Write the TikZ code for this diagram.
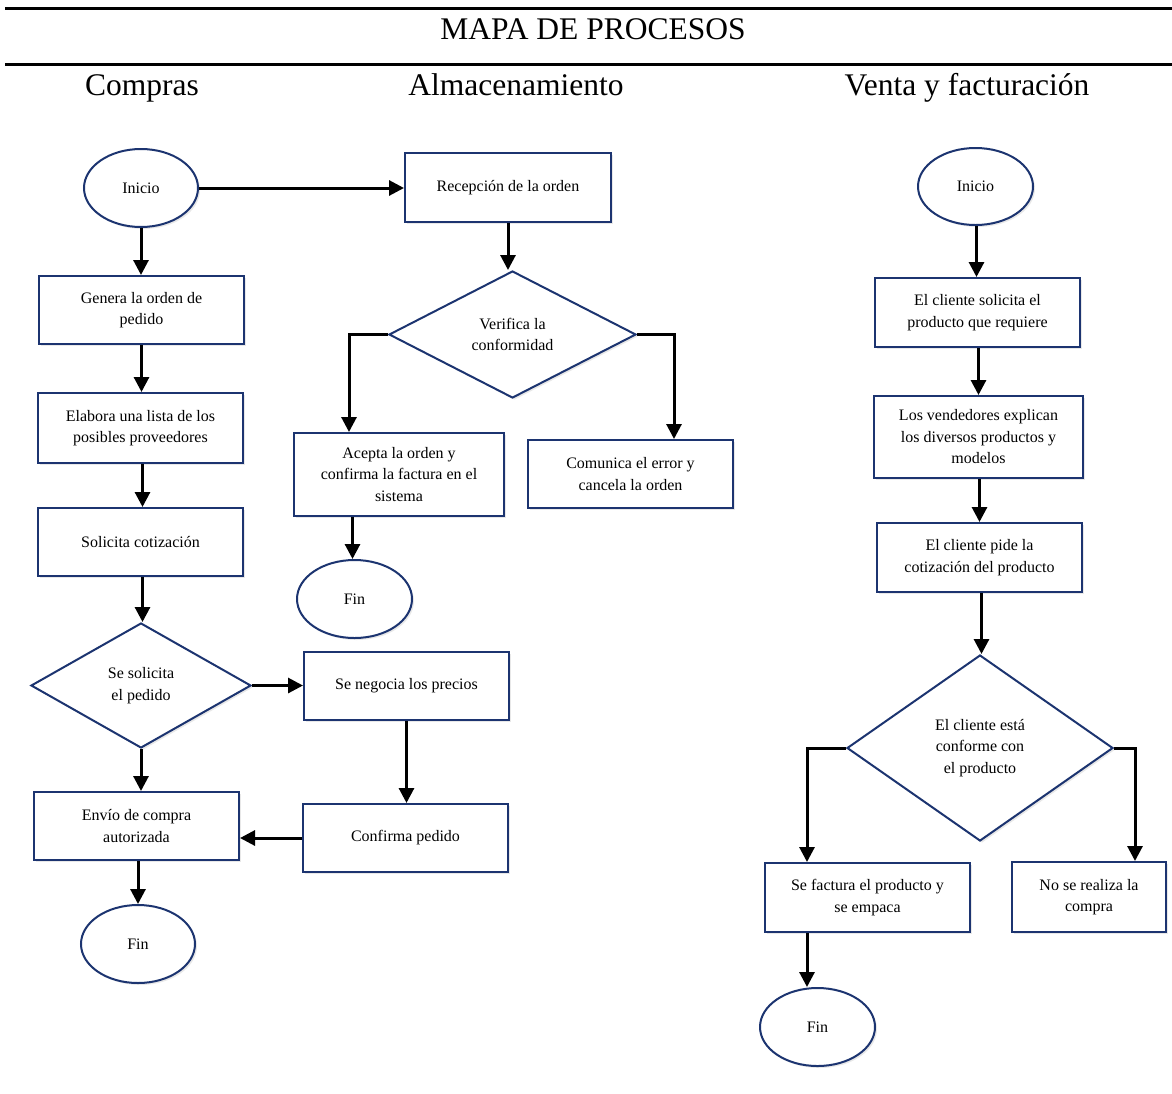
\documentclass[tikz,border=0pt]{standalone}
\usepackage{fontspec}
\setmainfont{Liberation Serif}
\usetikzlibrary{arrows.meta,shapes.geometric,shadows}

\definecolor{borde}{RGB}{28,52,112}

\begin{document}
\begin{tikzpicture}[x=1pt, y=-1pt,
	every node/.style={font=\fontsize{16}{21.5}\selectfont, align=center},
	sombra/.style={drop shadow={opacity=0.18, shadow xshift=2pt, shadow yshift=-2pt}},
	caja/.style={draw=borde, line width=2pt, fill=white, sombra, minimum width=205pt, minimum height=68pt, inner sep=2pt},
	terminal/.style={ellipse, draw=borde, line width=2pt, fill=white, sombra, minimum width=114pt, minimum height=78pt, inner sep=0pt},
	decision/.style={diamond, draw=borde, line width=2pt, fill=white, sombra, inner sep=0pt},
	flecha/.style={line width=3pt, -{Triangle[length=15pt, width=15pt]}},
	linea/.style={line width=3pt},
	titulo/.style={font=\fontsize{31.5}{34}\selectfont, anchor=base}]
	\useasboundingbox (0,0) rectangle (1172,1093);

	% encabezado
	\draw[linea] (5,8) -- (1172,8);
	\draw[linea] (5,64) -- (1172,64);
	\node[titulo] (mapa) at (593,39) {MAPA DE PROCESOS};
	\node[titulo] (hcompras) at (142,95) {Compras};
	\node[titulo] (halmacen) at (516,95) {Almacenamiento};
	\node[titulo] (hventa) at (967,95) {Venta y facturación};

	% compras
	\node[terminal] (ini1) at (141,188) {Inicio};
	\node[caja] (gen) at (141.5,310) {Genera la orden de\\pedido};
	\node[caja, minimum height=70pt] (ela) at (140.5,428) {Elabora una lista de los\\posibles proveedores};
	\node[caja] (sol) at (140.5,542) {Solicita cotización};
	\node[decision, minimum width=220pt, minimum height=125pt] (dec1) at (141,685.5) {Se solicita\\el pedido};
	\node[caja] (neg) at (406.5,686) {Se negocia los precios};
	\node[caja] (con) at (405.5,838) {Confirma pedido};
	\node[caja] (env) at (136.5,826) {Envío de compra\\autorizada};
	\node[terminal] (fin1) at (138,944) {Fin};

	% almacenamiento
	\node[caja, minimum width=206pt, minimum height=69pt] (rec) at (508,187.5) {Recepción de la orden};
	\node[decision, minimum width=247pt, minimum height=127pt] (dec2) at (512.5,334.5) {Verifica la\\conformidad};
	\node[caja, minimum width=210pt, minimum height=83pt] (ace) at (399,474.5) {Acepta la orden y\\confirma la factura en el\\sistema};
	\node[caja] (com) at (630.5,474) {Comunica el error y\\cancela la orden};
	\node[terminal, minimum width=115pt] (fin2) at (354.5,599) {Fin};

	% venta y facturacion
	\node[terminal, minimum width=115pt, minimum height=77pt] (ini2) at (975.5,186.5) {Inicio};
	\node[caja, minimum height=69pt] (cli) at (977.5,312.5) {El cliente solicita el\\producto que requiere};
	\node[caja, minimum width=209pt, minimum height=82pt] (ven) at (978.5,437) {Los vendedores explican\\los diversos productos y\\modelos};
	\node[caja, minimum height=69pt] (ped) at (979.5,557.5) {El cliente pide la\\cotización del producto};
	\node[decision, minimum width=266pt, minimum height=186pt] (dec3) at (980,748) {El cliente está\\conforme con\\el producto};
	\node[caja, minimum height=69pt] (fac) at (867.5,897.5) {Se factura el producto y\\se empaca};
	\node[caja, minimum width=154pt, minimum height=70pt] (nor) at (1089,897) {No se realiza la\\compra};
	\node[terminal, minimum width=115pt] (fin3) at (817.5,1027) {Fin};

	% conectores compras
	\draw[flecha] (ini1.east) -- (ini1.east -| rec.west);
	\draw[flecha] (ini1.south) -- (ini1.south |- gen.north);
	\draw[flecha] (gen.south) -- (gen.south |- ela.north);
	\draw[flecha] ([xshift=2pt]ela.south) -- ([xshift=2pt]ela.south |- sol.north);
	\draw[flecha] ([xshift=2pt]sol.south) -- ([xshift=2pt]sol.south |- dec1.north);
	\draw[flecha] (dec1.east) -- (dec1.east -| neg.west);
	\draw[flecha] (dec1.south) -- (dec1.south |- env.north);
	\draw[flecha] (neg.south) -- (neg.south |- con.north);
	\draw[flecha] (con.west) -- (con.west -| env.east);
	\draw[flecha] (fin1.north |- env.south) -- (fin1.north);

	% conectores almacenamiento
	\draw[flecha] (rec.south) -- (rec.south |- dec2.north);
	\draw[flecha] (dec2.west) -| ([xshift=56pt]ace.north west);
	\draw[flecha] (dec2.east) -| ([xshift=147pt]com.north west);
	\draw[flecha] ([xshift=-2pt]fin2.north |- ace.south) -- ([xshift=-2pt]fin2.north);

	% conectores venta
	\draw[flecha] ([xshift=1pt]ini2.south) -- ([xshift=1pt]ini2.south |- cli.north);
	\draw[flecha] ([xshift=1pt]cli.south) -- ([xshift=1pt]cli.south |- ven.north);
	\draw[flecha] ([xshift=1pt]ven.south) -- ([xshift=1pt]ven.south |- ped.north);
	\draw[flecha] ([xshift=2pt]ped.south) -- ([xshift=2pt]ped.south |- dec3.north);
	\draw[flecha] (dec3.west) -| ([xshift=43pt]fac.north west);
	\draw[flecha] (dec3.east) -| ([xshift=124pt]nor.north west);
	\draw[flecha] ([xshift=43pt]fac.south west) -- ([xshift=43pt]fac.south west |- fin3.north);
\end{tikzpicture}
\end{document}
